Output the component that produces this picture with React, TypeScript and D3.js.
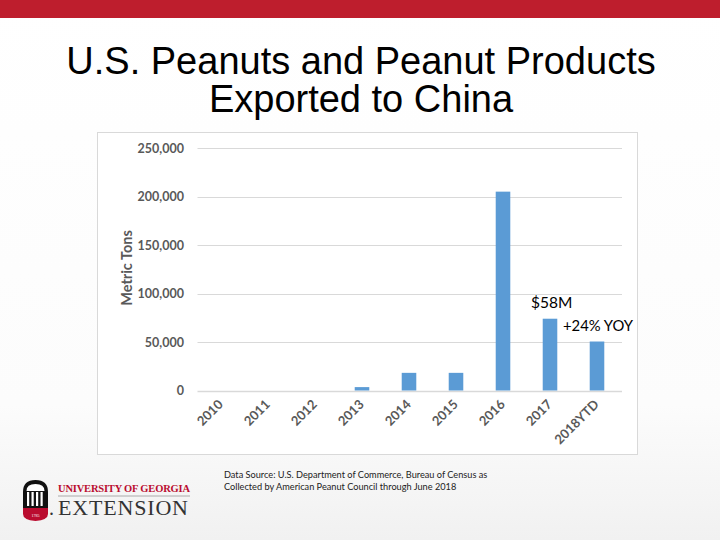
import React from "react";
import * as d3 from "d3";

const categories = ["2010", "2011", "2012", "2013", "2014", "2015", "2016", "2017", "2018YTD"];
const metricTons = [0, 0, 0, 3500, 18200, 18200, 205000, 74000, 50500];
const yTicks = [0, 50000, 100000, 150000, 200000, 250000];
const titleLines = ["U.S. Peanuts and Peanut Products", "Exported to China"];
const sourceLines = [
  "Data Source: U.S. Department of Commerce, Bureau of Census as",
  "Collected by American Peanut Council through June 2018",
];

export default function App() {
  const W = 720, H = 540;
  const plot = { left: 197.5, right: 620.5, top: 148, bottom: 390.5 };
  const x = d3.scaleBand<string>().domain(categories).range([plot.left, plot.right]).paddingInner(0.69).paddingOuter(0.345);
  const y = d3.scaleLinear().domain([0, 250000]).range([plot.bottom, plot.top]);
  const fmt = d3.format(",");
  const font = "Lato, 'Open Sans', sans-serif";
  const gray = "#595959";

  return (
    <div style={{ position: "absolute", left: 0, top: 0 }}>
      <svg width={W} height={H} style={{ display: "block" }}>
        <defs>
          <linearGradient id="bg" x1="0" y1="0" x2="0" y2="1">
            <stop offset="0%" stopColor="#ffffff" />
            <stop offset="75%" stopColor="#fcfcfc" />
            <stop offset="100%" stopColor="#f1f1f1" />
          </linearGradient>
        </defs>
        <rect x={0} y={0} width={W} height={H} fill="url(#bg)" />
        <rect x={0} y={0} width={W} height={18} fill="#BE1E2D" />
        {titleLines.map((t, i) => (
          <text key={i} x={361} y={74 + i * 38} textAnchor="middle" fontFamily="'Liberation Sans', Arial, sans-serif" fontSize={38} fill="#000">
            {t}
          </text>
        ))}
        <rect x={97.5} y={132.5} width={540} height={322} fill="#fff" stroke="#d9d9d9" strokeWidth={1} />
        {yTicks.map((t) => (
          <g key={t}>
            <line x1={plot.left} x2={plot.right + 1.5} y1={Math.round(y(t)) + 0.5} y2={Math.round(y(t)) + 0.5} stroke="#d9d9d9" strokeWidth={t === 0 ? 1.5 : 1} />
            <text x={184} y={y(t) + 4.5} textAnchor="end" fontFamily={font} fontWeight={700} fontSize={12.5} fill={gray}>
              {fmt(t)}
            </text>
          </g>
        ))}
        <text transform={`translate(132,268) rotate(-90)`} textAnchor="middle" fontFamily={font} fontWeight={700} fontSize={14.5} fill={gray}>
          Metric Tons
        </text>
        {categories.map((c, i) => (
          <rect key={c} x={x(c)} y={y(metricTons[i])} width={x.bandwidth()} height={plot.bottom - y(metricTons[i])} fill="#5B9BD5" />
        ))}
        {categories.map((c) => {
          const cx = (x(c) as number) + x.bandwidth() / 2 - 0.5;
          return (
            <text key={c} transform={`translate(${cx},${402}) rotate(-45)`} textAnchor="end" dy="0.35em" fontFamily={font} fontWeight={700} fontSize={13} fill={gray}>
              {c}
            </text>
          );
        })}
        <text x={531} y={308} fontFamily={font} fontSize={15.5} fill="#000">$58M</text>
        <text x={563} y={331} fontFamily={font} fontSize={14.8} fill="#000">+24% YOY</text>
        {sourceLines.map((s, i) => (
          <text key={i} x={224} y={478 + i * 12} fontFamily={font} fontSize={9.2} fill="#222">{s}</text>
        ))}
        {/* logo */}
        <g>
          <path d="M23,512 L23,492 Q23,480 35.5,480 Q48,480 48,492 L48,512 Z" fill="#111" />
          <path d="M26.5,491 Q26.5,484 35.5,484 Q44.5,484 44.5,491 Z" fill="#fff" />
          {[27, 31.5, 36, 40.5].map((cx) => (
            <rect key={cx} x={cx} y={492} width={2.2} height={14} fill="#fff" />
          ))}
          <path d="M23,508 L48,508 L48,514 Q48,520 35.5,521 Q23,520 23,514 Z" fill="#BA0C2F" />
          <text x={35.5} y={517} textAnchor="middle" fontSize={4} fill="#fff" fontFamily="serif">1785</text>
          <text x={58} y={492} fontFamily="'Liberation Serif', 'DejaVu Serif', serif" fontWeight={700} fontSize={10.5} fill="#BA0C2F" textLength={132}>
            UNIVERSITY OF GEORGIA
          </text>
          <line x1={58} x2={190} y1={496} y2={496} stroke="#aaa" strokeWidth={1} />
          <text x={49} y={515} fontFamily="'Liberation Serif', serif" fontSize={20} fill="#333">.</text>
          <text x={58} y={515} fontFamily="'Liberation Serif', 'DejaVu Serif', serif" fontSize={22} fill="#333" textLength={130}>
            EXTENSION
          </text>
        </g>
      </svg>
    </div>
  );
}
